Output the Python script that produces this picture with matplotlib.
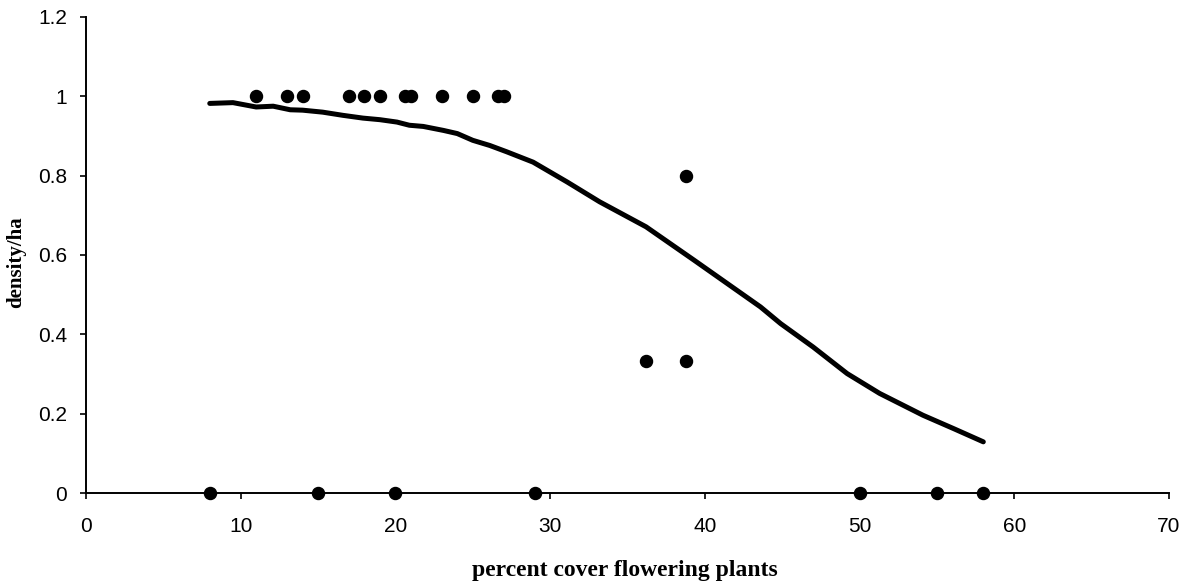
"""Flowering plant cover vs density, scatter with fitted curve."""

import matplotlib

matplotlib.use("Agg")
import matplotlib.pyplot as plt

# observed points
obs_x = [11, 13, 14, 17, 18, 19, 20.6, 21, 23, 25, 26.6, 27,
         38.8, 36.2, 38.8,
         8, 15, 20, 29, 50, 55, 58]
obs_y = [1, 1, 1, 1, 1, 1, 1, 1, 1, 1, 1, 1,
         0.8, 0.333, 0.333,
         0, 0, 0, 0, 0, 0, 0]

# fitted curve
fit_x = [8.0, 9.5, 11.0, 12.1, 13.2, 14.0, 15.3, 16.6, 17.9, 19.0, 20.1, 20.9,
         21.8, 23.1, 24.0, 25.0, 26.1, 27.2, 28.9, 31.1, 33.2, 36.2, 39.3,
         43.6, 44.9, 47.0, 49.2, 51.3, 54.1, 56.1, 58.0]
fit_y = [0.982, 0.984, 0.973, 0.975, 0.966, 0.965, 0.960, 0.952, 0.945, 0.941,
         0.935, 0.927, 0.924, 0.914, 0.906, 0.889, 0.876, 0.860, 0.834, 0.784,
         0.734, 0.671, 0.587, 0.469, 0.427, 0.368, 0.301, 0.251, 0.196, 0.162,
         0.129]

x_ticks = [0, 10, 20, 30, 40, 50, 60, 70]
y_ticks = [0, 0.2, 0.4, 0.6, 0.8, 1.0, 1.2]
y_tick_labels = ["0", "0.2", "0.4", "0.6", "0.8", "1", "1.2"]

fig = plt.figure(figsize=(11.91, 5.84), dpi=100)
ax = fig.add_axes([0.0722, 0.1558, 0.9093, 0.8152])

ax.plot(fit_x, fit_y, color="black", linewidth=3.6, solid_capstyle="round", zorder=2)
ax.scatter(obs_x, obs_y, s=75, color="black", zorder=3, clip_on=False)

ax.set_xlim(0, 70)
ax.set_ylim(0, 1.2)
ax.set_xticks(x_ticks)
ax.set_xticklabels([str(t) for t in x_ticks])
ax.set_yticks(y_ticks)
ax.set_yticklabels(y_tick_labels)

for side in ("top", "right"):
    ax.spines[side].set_visible(False)
for side in ("left", "bottom"):
    ax.spines[side].set_linewidth(1.4)

ax.tick_params(axis="both", direction="out", length=4.5, width=1.2,
               labelsize=15, labelfontfamily="Liberation Sans")
ax.tick_params(axis="x", pad=13)
ax.tick_params(axis="y", pad=9)

ax.set_xlabel("percent cover flowering plants", family="Liberation Serif",
              weight="bold", size=17)
ax.xaxis.set_label_coords(0.498, -0.140)
ax.set_ylabel("density/ha", family="Liberation Serif", weight="bold", size=15)
ax.yaxis.set_label_coords(-0.0554, 0.485)

fig.savefig("out.png", dpi=100)
plt.close(fig)
